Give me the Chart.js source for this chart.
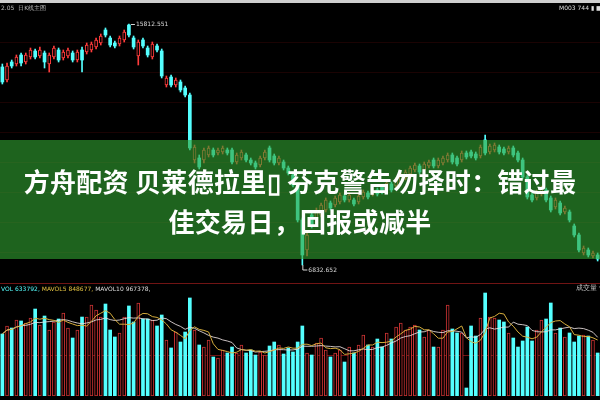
<!DOCTYPE html>
<html>
<head>
<meta charset="utf-8">
<script src="https://cdn.jsdelivr.net/npm/chart.js@4.4.1/dist/chart.umd.min.js"></script>
<style>
html,body{margin:0;padding:0;background:#000;}
#wrap{position:relative;width:600px;height:400px;overflow:hidden;background:#000;}
#price{position:absolute;left:0;top:0;}
#vol{position:absolute;left:0;top:283px;}
#topbar{position:absolute;left:0;top:0;width:600px;height:3px;background:#cfcfcf;}
.small{position:absolute;font-family:"DejaVu Sans",sans-serif;font-size:6px;line-height:7px;white-space:nowrap;}
#banner{position:absolute;left:0;top:140px;width:600px;height:119px;background:rgba(48,160,48,0.62);}
#title{position:absolute;left:0;top:161px;width:600px;text-align:center;color:#fff;font-family:"Noto Sans CJK SC","Noto Sans",sans-serif;font-weight:bold;font-size:26px;letter-spacing:0.3px;line-height:40px;white-space:nowrap;}
</style>
</head>
<body>
<div id="wrap">
  <canvas id="price" width="600" height="283"></canvas>
  <canvas id="vol" width="600" height="117"></canvas>
  <div id="topbar"></div>
  <div class="small" style="left:1px;top:4px;color:#bbb;">2.05&nbsp;&nbsp;日K线主图</div>
  <div class="small" style="left:559px;top:4px;color:#ddd;">M003 744 ▮ ■</div>
  <div class="small" style="left:1px;top:285px;"><span style="color:#5ff;">VOL 633792,</span> <span style="color:#e0c040;">MAVOL5 848677,</span> <span style="color:#ddd;">MAVOL10 967378,</span></div>
  <div class="small" style="left:576px;top:285px;color:#ccc;font-size:7px;">成交量 ▾</div>
  <div id="banner"></div>
  <div id="title">方舟配资 贝莱德拉里▯ 芬克警告勿择时：错过最<br>佳交易日，回报或减半</div>
</div>
<script>
// ---- data ----
const days = Array.from({length:128}, (_, i) => 'D' + (i + 1));

const open = [14211,13726,14397,14322,14658,14397,14583,14807,14620,14732,
14322,14583,14844,14546,14620,14732,14471,14844,14770,14844,
14956,15105,15589,15291,15105,15068,15217,15776,15291,14620,
15217,14918,14583,14993,14807,13540,13838,13540,13652,13428,
13167,10745,10820,10745,10932,11118,11006,11044,11118,11118,
10671,10820,10932,10745,10634,10559,10820,11193,10894,10634,
10671,10447,10187,9814,8510,7392,8696,8510,8696,8882,
9143,9069,9180,9404,9255,9255,9180,9367,9516,9479,
9628,9739,9628,9851,9777,9926,10075,10224,10373,10522,
10373,10522,10745,10522,10634,10745,10932,10820,10745,11006,
11044,10969,10894,11491,11044,11118,11230,11155,11044,11193,
11006,10745,10112,9441,9330,9479,9628,9330,8994,9143,
8808,8808,8286,7951,7280,7392,7168,7206];

const close = [13652,14248,14248,14583,14360,14658,14844,14583,14844,14397,
14658,14918,14471,14770,14844,14471,14770,14471,15030,15068,
15217,15366,15403,15030,14993,15291,15515,15403,14956,15142,
14993,14658,15068,14844,13875,13801,13540,13726,13354,13167,
11193,11230,10485,11118,11193,10932,11118,11193,11006,10671,
10932,11044,10745,10634,10485,10820,11044,10745,10634,10820,
10447,10261,9814,8510,7206,7951,8324,8882,9069,9255,
8957,9330,9441,9255,9441,9106,9404,9553,9367,9628,
9479,9553,9888,9628,10000,10187,10298,10447,10559,10298,
10596,10671,10522,10745,10820,10932,10671,10596,11006,10857,
10894,10820,11230,11006,11267,11304,11044,11006,11193,10932,
10745,10112,9367,9255,9553,9702,9255,8882,9255,8771,
8957,8510,7951,7392,7467,7206,7280,7057];

const high = [14322,14360,14471,14658,14732,14732,14918,14881,14956,14807,
14732,14993,14918,14844,14918,14807,14844,14956,15105,15142,
15291,15440,15664,15366,15179,15366,15589,15812.551,15366,15217,
15291,14993,15142,15068,14881,13875,13912,13801,13726,13503,
13242,11304,10932,11193,11267,11193,11193,11267,11193,11193,
11006,11118,11006,10820,10708,10894,11118,11267,10969,10894,
10745,10522,10261,9888,8584,8025,8808,8957,9143,9330,
9218,9404,9516,9479,9516,9330,9479,9628,9590,9702,
9702,9814,9963,9926,10075,10261,10373,10522,10634,10596,
10671,10745,10820,10820,10894,11006,11006,10894,11081,11081,
11118,11044,11304,11677,11342,11379,11304,11230,11267,11267,
11081,10820,10187,9516,9628,9777,9702,9404,9330,9218,
9031,8882,8361,8025,7541,7467,7355,7280];

const low = [13577,13652,14173,14248,14248,14322,14509,14509,14546,14173,
14024,14509,14397,14471,14546,14397,14397,14024,14695,14770,
14881,15030,15328,14956,14918,14993,15142,15328,14881,14285,
14918,14583,14509,14770,13801,13465,13465,13465,13279,13093,
11118,10634,10410,10634,10857,10857,10932,10969,10932,10596,
10596,10745,10671,10559,10410,10485,10745,10671,10559,10559,
10373,10187,9739,8435,6832.652,7168,8212,8398,8622,8808,
8882,8994,9106,9180,9180,9031,9106,9292,9292,9404,
9404,9479,9553,9553,9702,9851,10000,10149,10298,10224,
10298,10447,10447,10447,10559,10671,10596,10522,10671,10783,
10820,10745,10820,10932,10969,11044,10969,10932,10969,10857,
10671,10037,9292,9180,9255,9404,9180,8808,8920,8696,
8733,8435,7876,7318,7206,7131,7094,6982];

const volume = [914000,1032000,1002000,1120000,1106000,1076000,1150000,1282000,1047000,1179000,
973000,1091000,1135000,1223000,1002000,855000,973000,1164000,1164000,1341000,
1268000,1164000,1356000,973000,870000,929000,1164000,1327000,1091000,1371000,
1135000,1135000,1120000,1032000,1194000,825000,708000,943000,796000,943000,
1445000,973000,752000,722000,825000,575000,560000,678000,634000,722000,
634000,752000,634000,678000,604000,649000,604000,737000,796000,752000,
619000,708000,649000,796000,1032000,634000,604000,781000,855000,678000,
575000,634000,678000,501000,722000,634000,752000,899000,752000,722000,
840000,722000,929000,840000,1017000,1076000,973000,1017000,1047000,973000,
870000,973000,722000,722000,973000,1341000,988000,929000,929000,118000,
1032000,884000,1150000,1518000,1164000,1150000,1120000,1091000,929000,855000,
722000,811000,1017000,811000,973000,1120000,1135000,1371000,929000,1002000,
870000,929000,796000,884000,899000,884000,825000,633792];

// reference levels (price grid / volume grid)
const priceGridLevels = [15142, 14024, 12906, 11789, 10671, 9553, 8435, 7318];
const volGridLevels = [604340, 1665620];
const priceRange = {min: 6162, max: 16707};
const volRange = {min: 0, max: 1665620};

// ---- drawing ----
const UP = '#ff3c3c', UPV = '#c83232', DOWN = '#54ffff';
const isUp = close.map((c, i) => c >= open[i]);

function movingAvg(arr, n) {
  return arr.map((_, i) => {
    const s = arr.slice(Math.max(0, i - n + 1), i + 1);
    return s.reduce((a, b) => a + b, 0) / s.length;
  });
}

function gridPlugin(levels, scaleId, color) {
  return {
    id: 'grid_' + scaleId,
    beforeDatasetsDraw(chart) {
      const {ctx, chartArea} = chart;
      const sc = chart.scales[scaleId];
      ctx.save();
      ctx.strokeStyle = color;
      ctx.lineWidth = 1;
      levels.forEach(v => {
        const py = Math.round(sc.getPixelForValue(v)) + 0.5;
        ctx.beginPath();
        ctx.moveTo(chartArea.left, py);
        ctx.lineTo(chartArea.right, py);
        ctx.stroke();
      });
      ctx.restore();
    }
  };
}

const extremes = {
  id: 'extremes',
  afterDatasetsDraw(chart) {
    const {ctx} = chart;
    const xs = chart.scales.x, ys = chart.scales.y;
    const hi = Math.max(...high), hiI = high.indexOf(hi);
    const lo = Math.min(...low), loI = low.indexOf(lo);
    ctx.save();
    ctx.font = '6px "DejaVu Sans"';
    ctx.fillStyle = '#d8d8d8';
    ctx.strokeStyle = '#d8d8d8';
    ctx.lineWidth = 1;
    ctx.textBaseline = 'middle';
    let px = xs.getPixelForValue(hiI), py = ys.getPixelForValue(hi);
    ctx.beginPath(); ctx.moveTo(px + 2, Math.round(py) + 0.5); ctx.lineTo(px + 6, Math.round(py) + 0.5); ctx.stroke();
    ctx.fillText(hi.toFixed(3), px + 7, py);
    px = xs.getPixelForValue(loI); py = ys.getPixelForValue(lo);
    ctx.beginPath(); ctx.moveTo(px + 0.5, py); ctx.lineTo(px + 0.5, py + 5); ctx.lineTo(px + 5, py + 5); ctx.stroke();
    ctx.fillText(lo.toFixed(3), px + 6, py + 5);
    ctx.restore();
  }
};

const common = {
  responsive: false,
  animation: false,
  devicePixelRatio: 1,
  events: [],
  plugins: {legend: {display: false}, tooltip: {enabled: false}}
};

new Chart(document.getElementById('price'), {
  type: 'bar',
  data: {
    labels: days,
    datasets: [
      {
        label: 'body',
        data: open.map((o, i) => [o, close[i]]),
        backgroundColor: isUp.map(u => u ? '#000000' : DOWN),
        borderColor: isUp.map(u => u ? UP : DOWN),
        borderWidth: isUp.map(u => u ? 1 : 0),
        borderSkipped: false,
        barThickness: 3,
        grouped: false,
        order: 1
      },
      {
        label: 'wick',
        data: low.map((l, i) => [l, high[i]]),
        backgroundColor: isUp.map(u => u ? UP : DOWN),
        borderWidth: 0,
        barThickness: 1,
        grouped: false,
        order: 2
      }
    ]
  },
  options: Object.assign({}, common, {
    layout: {padding: 0},
    scales: {
      x: {display: false},
      y: {display: false, min: priceRange.min, max: priceRange.max}
    }
  }),
  plugins: [gridPlugin(priceGridLevels, 'y', 'rgba(90,10,10,0.3)'), extremes]
});

new Chart(document.getElementById('vol'), {
  type: 'bar',
  data: {
    labels: days,
    datasets: [
      {
        type: 'line', label: 'MAVOL5', data: movingAvg(volume, 5),
        borderColor: '#d6ad3c', borderWidth: 1, pointRadius: 0, tension: 0, order: 0
      },
      {
        type: 'line', label: 'MAVOL10', data: movingAvg(volume, 10),
        borderColor: 'rgba(235,225,225,0.85)', borderWidth: 1, pointRadius: 0, tension: 0, order: 0
      },
      {
        type: 'bar', label: 'VOL', data: volume,
        backgroundColor: isUp.map(u => u ? '#000000' : DOWN),
        borderColor: isUp.map(u => u ? UPV : DOWN),
        borderWidth: isUp.map(u => u ? 1 : 0),
        borderSkipped: false,
        barThickness: 3,
        order: 2
      }
    ]
  },
  options: Object.assign({}, common, {
    layout: {padding: {top: 0, bottom: 4, left: 0, right: 0}},
    scales: {
      x: {display: false},
      y: {display: false, min: volRange.min, max: volRange.max}
    }
  }),
  plugins: [gridPlugin(volGridLevels, 'y', 'rgba(140,25,25,0.8)')]
});
</script>
</body>
</html>
